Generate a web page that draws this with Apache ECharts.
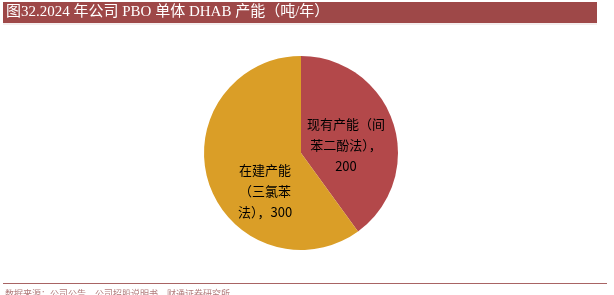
<!DOCTYPE html>
<html><head><meta charset="utf-8">
<script src="https://cdn.jsdelivr.net/npm/echarts@6/dist/echarts.min.js"></script>
<style>html,body{margin:0;padding:0;background:#fff}#c{width:614px;height:295px}</style>
</head><body><div id="c"></div>
<script>
const categories = ['现有产能（间\n苯二酚法），\n200', '在建产能\n（三氯苯\n法），300'];
const values = [200, 300];
const colors = ['#B3484A', '#DA9E27'];
const titleText = '图32.2024 年公司 PBO 单体 DHAB 产能（吨/年）';
const sourceText = '数据来源：公司公告，公司招股说明书，财通证券研究所';

const chart = echarts.init(document.getElementById('c'), null, {renderer: 'canvas'});
chart.setOption({
  animation: false,
  graphic: [
    {type: 'rect', shape: {x: 3, y: 2, width: 594, height: 21}, style: {fill: '#9E4848'}},
    {type: 'line', shape: {x1: 3, y1: 24, x2: 597, y2: 24}, style: {stroke: '#E8DCDC', lineWidth: 1}},
    {type: 'text', x: 6, y: 5, style: {text: titleText, fill: '#fff', font: '15px "Liberation Serif", "Noto Sans CJK SC"'}},
    {type: 'line', shape: {x1: 3, y1: 283.5, x2: 607, y2: 283.5}, style: {stroke: '#A86464', lineWidth: 1}},
    {type: 'text', x: 5, y: 289, style: {text: sourceText, fill: '#B07A7A', font: '9px "Noto Sans CJK SC"'}}
  ],
  series: [{
    type: 'pie',
    center: [301, 153],
    radius: [0, 97],
    startAngle: 90,
    clockwise: true,
    label: {position: 'inside', color: '#000', fontSize: 13, lineHeight: 20, fontFamily: '"Noto Sans CJK SC", sans-serif'},
    labelLine: {show: false},
    itemStyle: {borderWidth: 0},
    emphasis: {disabled: true},
    data: values.map((v, i) => ({
      value: v, name: categories[i],
      itemStyle: {color: colors[i]},
      label: i === 0 ? {align: 'center', offset: [-4, 8]} : {align: 'right', offset: [13, 22]}
    })),
    label: {position: 'inside', formatter: '{b}', color: '#000', fontSize: 13, lineHeight: 21, fontFamily: '"Noto Sans CJK SC", sans-serif'}
  }]
});
</script></body></html>
